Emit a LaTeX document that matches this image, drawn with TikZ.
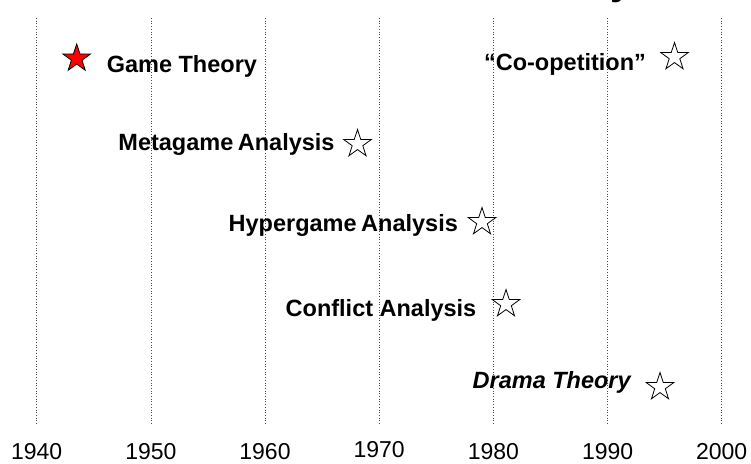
\documentclass[tikz,border=0pt]{standalone}
\usepackage{fontspec}
\setmainfont{Liberation Sans}
\usetikzlibrary{shapes.geometric}
\begin{document}
\begin{tikzpicture}[x=1pt,y=1pt,
  grid/.style={dotted,line width=0.7pt,gray!60!black},
  yearlbl/.style={anchor=base,inner sep=0pt,font=\fontsize{23}{26}\selectfont},
  evlbl/.style={anchor=base,inner sep=0pt,font=\fontsize{23.5}{27}\selectfont\bfseries},
  evstar/.style={star,star points=5,star point ratio=2.6,minimum size=29pt,inner sep=0pt,draw=black,line width=0.8pt,fill=white}]
\useasboundingbox (0,0) rectangle (751,-463);
\begin{scope}
\clip (0,0) rectangle (751,-463);
\node[anchor=base west,inner sep=0pt,font=\fontsize{40}{44}\selectfont\bfseries] (ttl) at (610,5.5) {y};
\end{scope}
\foreach \i in {0,...,6}{
  \coordinate (t\i) at ({36.7+114.17*\i},-18);
  \coordinate (b\i) at ({36.7+114.17*\i},-425);
  \draw[grid] (t\i) -- (b\i);
}
\node[yearlbl] (y1940) at (36.7,-459.5) {1940};
\node[yearlbl] (y1950) at (150.9,-459.5) {1950};
\node[yearlbl] (y1960) at (265.0,-459.5) {1960};
\node[yearlbl] (y1970) at (379.2,-457.5) {1970};
\node[yearlbl] (y1980) at (493.4,-459.5) {1980};
\node[yearlbl] (y1990) at (607.6,-459.5) {1990};
\node[yearlbl] (y2000) at (721.7,-459.5) {2000};

\node[evstar,fill=red] (sgame) at (76.7,-58.5) {};
\node[evlbl] (game) at (181.9,-72) {Game Theory};
\node[evstar] (scoop) at (674.5,-57) {};
\node[evlbl] (coop) at (565,-70) {“Co-opetition”};
\node[evstar] (smeta) at (357.5,-144) {};
\node[evlbl] (meta) at (226.5,-150.7) {Metagame\hspace{-2pt} Analysis};
\node[evstar] (shyper) at (482,-222) {};
\node[evlbl] (hyper) at (343.3,-231) {Hypergame\hspace{-2pt} Analysis};
\node[evstar] (sconf) at (506,-304) {};
\node[evlbl] (conf) at (381,-316.7) {Conflict Analysis};
\node[evstar] (sdrama) at (660,-387) {};
\node[evlbl,font=\fontsize{23.5}{27}\selectfont\bfseries\itshape] (drama) at (551.7,-388.3) {Drama Theory};
\end{tikzpicture}
\end{document}
